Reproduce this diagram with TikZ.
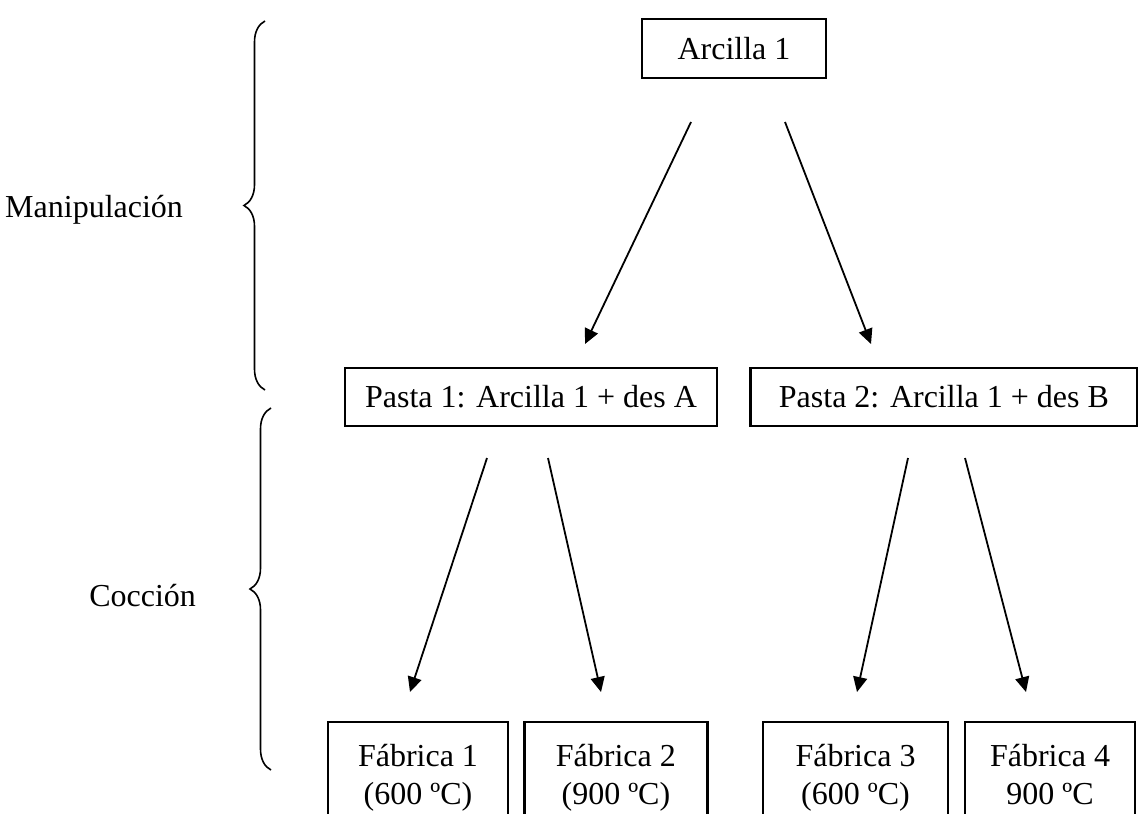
\documentclass[tikz,border=0pt]{standalone}
\usepackage{fontspec}
\setmainfont{Liberation Serif}
\usepackage{tikz}
\usetikzlibrary{positioning}
\usetikzlibrary{arrows.meta}
\usetikzlibrary{decorations.pathreplacing}
\tikzset{
  % boxed stages: clay, pastes, fabrics
  caja/.style = {draw, line width=1.2pt, inner sep=0pt, font=\fontsize{16}{19}\selectfont},
  fab/.style = {anchor=north, inner ysep=11pt, align=center},
  % arrows between stages
  flecha/.style = {line width=0.9pt, -{Triangle[length=7.5pt, width=7pt]}},
  % curly braces on the left
  llave/.style = {decorate, decoration={brace, amplitude=10.5pt}, line width=0.8pt},
  etiqueta/.style = {font=\fontsize{16}{19}\selectfont},
}

\begin{document}
\begin{tikzpicture}[x=0.5pt, y=-0.5pt]
      \useasboundingbox (0,0) rectangle (1138,813);
      \clip (0,0) rectangle (1138,813);

      \node[caja, minimum width=92pt, minimum height=29.5pt] (a) at (734,48.5) {Arcilla 1};

      \node[caja, minimum width=186pt, minimum height=29pt] (p1) at (531,397) {Pasta 1: Arcilla 1 + des A};

      \node[caja, minimum width=193.5pt, minimum height=29pt] (p2) [right=15.5pt of p1] {Pasta 2: Arcilla 1 + des B};

      \node[caja, fab, minimum width=90pt] (f1) at (418,721) {Fábrica 1\\(600 ºC)};

      \node[caja, fab, minimum width=91.5pt] (f2) [right=7pt of f1] {Fábrica 2\\(900 ºC)};

      \node[caja, fab, minimum width=92.5pt] (f3) at (855.5,721) {Fábrica 3\\(600 ºC)};

      \node[caja, fab, minimum width=85pt] (f4) at (1050,721) {Fábrica 4\\900 ºC};

      \node[etiqueta, anchor=base east] (man) at (190,217) {Manipulación};
      \node[etiqueta, anchor=base east] (coc) at (203,606) {Cocción};

      % arrow ends
      \coordinate (a1) at (691,122);  \coordinate (p1a) at (585,344);
      \coordinate (a2) at (785,122);  \coordinate (p2a) at (871,344);
      \coordinate (p1i) at (487,458); \coordinate (f1a) at (410,692);
      \coordinate (p1d) at (548,458); \coordinate (f2a) at (601,692);
      \coordinate (p2i) at (908,458); \coordinate (f3a) at (857,692);
      \coordinate (p2d) at (965,458); \coordinate (f4a) at (1026,692);

      \draw[flecha] (a1) -- (p1a);
      \draw[flecha] (a2) -- (p2a);
      \draw[flecha] (p1i) -- (f1a);
      \draw[flecha] (p1d) -- (f2a);
      \draw[flecha] (p2i) -- (f3a);
      \draw[flecha] (p2d) -- (f4a);

      % braces
      \coordinate (m1) at (265,390); \coordinate (m2) at (265,21);
      \coordinate (c1) at (271,770); \coordinate (c2) at (271,408);
      \draw[llave] (m1) -- (m2);
      \draw[llave] (c1) -- (c2);
    \end{tikzpicture}
\end{document}
